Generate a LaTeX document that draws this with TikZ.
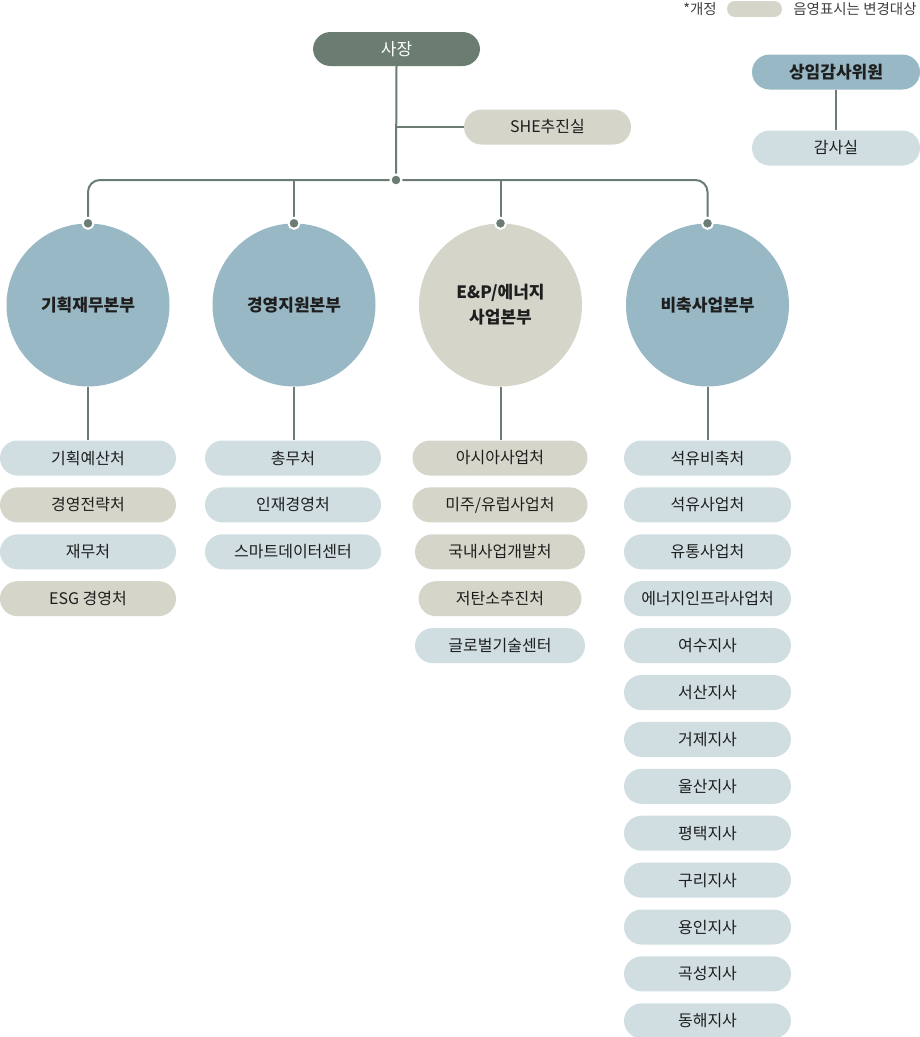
\documentclass[tikz,border=0pt]{standalone}
\usepackage{fontspec}
\setmainfont{Noto Sans CJK KR}
\usetikzlibrary{positioning}
\definecolor{ceogreen}{HTML}{6A7D70}
\definecolor{headblue}{HTML}{99B8C5}
\definecolor{chgbeige}{HTML}{D5D5C9}
\definecolor{boxblue}{HTML}{D0DEE2}
\definecolor{linegray}{HTML}{6B7C73}
\definecolor{txt}{HTML}{1E1E1E}
\begin{document}
\begin{tikzpicture}[x=1pt, y=-1pt, inner sep=0, text=txt,
    node distance=11.5pt,
    pill/.style={rounded corners=17.5pt, minimum width=176pt, minimum height=35pt,
      font=\fontsize{16}{18}\selectfont},
    pb/.style={pill, fill=boxblue},
    pc/.style={pill, fill=chgbeige},
    head/.style={circle, minimum size=163pt, fill=headblue, align=center,
      font=\bfseries\fontsize{17}{25}\selectfont},
    conn/.style={draw=linegray, line width=2pt},
    dot/.style={circle, fill=linegray, draw=white, line width=2pt, minimum size=11pt}]
  \useasboundingbox (0,0) rectangle (920,1037);
  % legend
  \node[text=black!75, font=\fontsize{14.5}{16}\selectfont] (lgA) at (700,9) {*개정};
  \node[pill, fill=chgbeige, minimum width=55pt, minimum height=16pt, rounded corners=8pt] (lgB) at (754.5,9) {};
  \node[text=black!75, font=\fontsize{14.5}{16}\selectfont] (lgC) at (855,9) {음영표시는 변경대상};
  % top
  \node[pill, fill=ceogreen, text=white, minimum width=167pt, minimum height=34pt, font=\fontsize{17}{18}\selectfont] (ceo) at (396.5,49) {사장};
  \node[pc, minimum width=167pt] (she) at (547.5,127) {SHE추진실};
  \node[pill, fill=headblue, minimum width=168pt, font=\bfseries\fontsize{17}{18}\selectfont] (aud) at (836,72) {상임감사위원};
  \node[pb, minimum width=168pt] (audo) at (836,148) {감사실};
  \coordinate (hub) at (396,180);
  % divisions
  \node[head] (c1) at (88,305) {기획재무본부};
  \node[head] (c2) at (294,305) {경영지원본부};
  \node[head, fill=chgbeige] (c3) at (500.5,305) {E\&P/에너지\\사업본부};
  \node[head] (c4) at (707.5,305) {비축사업본부};
  % 기획재무본부
  \node[pb] (b11) at (88,458) {기획예산처};
  \node[pc, below=of b11] (b12) {경영전략처};
  \node[pb, below=of b12] (b13) {재무처};
  \node[pc, below=of b13] (b14) {ESG 경영처};
  % 경영지원본부
  \node[pb] (b21) at (293,458) {총무처};
  \node[pb, below=of b21] (b22) {인재경영처};
  \node[pb, below=of b22] (b23) {스마트데이터센터};
  % E&P/에너지사업본부
  \node[pc, minimum width=175pt] (b31) at (500,458) {아시아사업처};
  \node[pc, minimum width=175pt, below=of b31] (b32) {미주/유럽사업처};
  \node[pc, minimum width=170pt, below=of b32] (b33) {국내사업개발처};
  \node[pc, minimum width=163pt, below=of b33] (b34) {저탄소추진처};
  \node[pb, minimum width=170pt, below=of b34] (b35) {글로벌기술센터};
  % 비축사업본부
  \node[pb, minimum width=167pt] (b41) at (707.5,458) {석유비축처};
  \node[pb, minimum width=167pt, below=of b41] (b42) {석유사업처};
  \node[pb, minimum width=167pt, below=of b42] (b43) {유통사업처};
  \node[pb, minimum width=167pt, below=of b43] (b44) {에너지인프라사업처};
  \node[pb, minimum width=167pt, below=of b44] (b45) {여수지사};
  \node[pb, minimum width=167pt, below=of b45] (b46) {서산지사};
  \node[pb, minimum width=167pt, below=of b46] (b47) {거제지사};
  \node[pb, minimum width=167pt, below=of b47] (b48) {울산지사};
  \node[pb, minimum width=167pt, below=of b48] (b49) {평택지사};
  \node[pb, minimum width=167pt, below=of b49] (b410) {구리지사};
  \node[pb, minimum width=167pt, below=of b410] (b411) {용인지사};
  \node[pb, minimum width=167pt, below=of b411] (b412) {곡성지사};
  \node[pb, minimum width=167pt, below=of b412] (b413) {동해지사};
  % connectors
  \draw[conn] (ceo.south) -- (hub);
  \draw[conn] (she.west) -- (she.west -| hub);
  \draw[conn] (aud.south) -- (audo.north);
  \draw[conn, rounded corners=12pt] (c1.north) |- (hub) -| (c4.north);
  \draw[conn] (c2.north) -- (c2.north |- hub);
  \draw[conn] (c3.north) -- (c3.north |- hub);
  \draw[conn] (c1.south) -- (c1.south |- b11.north);
  \draw[conn] (c2.south) -- (c2.south |- b21.north);
  \draw[conn] (c3.south) -- (c3.south |- b31.north);
  \draw[conn] (c4.south) -- (c4.south |- b41.north);
  % dots
  \node[dot] (dh) at (hub) {};
  \node[dot] (d1) at (c1.north) {};
  \node[dot] (d2) at (c2.north) {};
  \node[dot] (d3) at (c3.north) {};
  \node[dot] (d4) at (c4.north) {};
\end{tikzpicture}
\end{document}
